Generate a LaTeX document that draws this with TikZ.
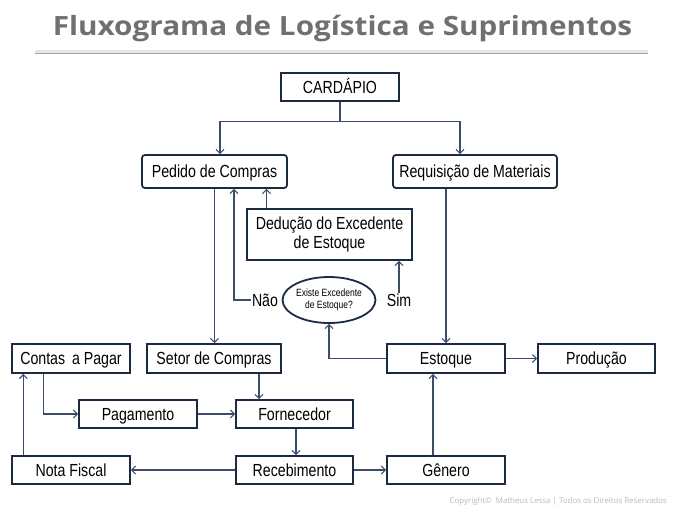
\documentclass[tikz,border=0pt]{standalone}
\usepackage{fontspec}
\setmainfont{Liberation Sans}[FakeStretch=0.81]
\newfontfamily\titlefont{Open Sans}[FakeStretch=1.12]
\newfontfamily\notefont{Open Sans}
\usepackage{tikz}
\usetikzlibrary{arrows.meta,positioning,shapes,calc}

\definecolor{boxline}{RGB}{28,42,66}
\definecolor{flowline}{RGB}{58,78,108}
\definecolor{titlegray}{RGB}{112,112,112}

\tikzset{
  etapa/.style={draw=boxline,line width=1.8pt,inner sep=0pt,
    font=\fontsize{17.5}{18.3}\selectfont,text height=12.5pt,text depth=0pt},
  etaparound/.style={etapa,rounded corners=3pt},
  rotulo/.style={font=\fontsize{17.5}{18.3}\selectfont,inner sep=1pt,text height=12.5pt,text depth=0pt},
  fluxo/.style={draw=flowline,line width=1.1pt,-{Straight Barb[length=4pt,width=8pt]}},
  liga/.style={draw=flowline,line width=1.1pt}
}

\begin{document}
\begin{tikzpicture}[x=1pt,y=-1pt]
  \useasboundingbox (0,0) rectangle (674,512);
  \node [anchor=base,inner sep=0pt] (titulo) at (342.5,35) {\titlefont\bfseries\fontsize{26.5}{28}\selectfont\color{titlegray}Fluxograma de Logística e Suprimentos};
  \coordinate (r0) at (35,53.3);
  \coordinate (r1) at (648,53.3);
  \draw [black!10,line width=2.5pt] ([yshift=2]r0) -- ([yshift=2]r1);
  \draw [black!35,line width=1pt] (r0) -- (r1);

  \node [etapa,minimum width=118,minimum height=28] (cardapio) at (340,87) {CARDÁPIO};
  \node [etaparound,minimum width=145,minimum height=33] (pedido) at (214.5,171.5) {Pedido de Compras};
  \node [etaparound,minimum width=164,minimum height=33] (requisicao) at (475,171.5) {Requisição de Materiais};
  \node [draw=boxline,line width=1.8pt,inner sep=0pt,align=center,font=\fontsize{17.5}{18.3}\selectfont,
    minimum width=165,minimum height=51] (deducao) at (329.5,234.5) {Dedução do Excedente\\de Estoque};
  \node [ellipse,draw=boxline,line width=1.8pt,minimum width=92,minimum height=46,inner sep=0pt,
    align=center,font=\fontsize{10.5}{11.5}\selectfont] (existe) at (329,300) {Existe Excedente\\de Estoque?};
  \node [rotulo] (nao) at (265,300) {Não};
  \node [rotulo] (sim) at (399,300) {Sim};

  \node [etapa,minimum width=118,minimum height=29] (contas) at (71,358.5) {Contas\, a Pagar};
  \node [etapa,minimum width=134,minimum height=29] (setor) at (214,358.5) {Setor de Compras};
  \node [etapa,minimum width=118,minimum height=29] (estoque) at (446,358.5) {Estoque};
  \node [etapa,minimum width=117,minimum height=29] (producao) at (596.5,358.5) {Produção};
  \node [etapa,minimum width=118,minimum height=28] (pagamento) at (138,414) {Pagamento};
  \node [etapa,minimum width=117,minimum height=28] (fornecedor) at (294.5,414) {Fornecedor};
  \node [etapa,minimum width=118,minimum height=28] (notafiscal) at (71,470) {Nota Fiscal};
  \node [etapa,minimum width=117,minimum height=28] (recebimento) at (294.5,470) {Recebimento};
  \node [etapa,minimum width=118,minimum height=28] (genero) at (446,470) {Gênero};

  \node [anchor=east,inner sep=0pt,text=black!28,font=\notefont\fontsize{7.9}{9}\selectfont] (copy) at (667,501.5)
    {Copyright©\ \ Matheus Lessa | Todos os Direitos Reservados};

  \draw [liga] (cardapio.south) -- ++(0,20) coordinate (split);
  \draw [fluxo] (split) -| ([xshift=5.5]pedido.north);
  \draw [fluxo] (split) -| ([xshift=-15]requisicao.north);
  \draw [fluxo] (pedido.south) -- (pedido.south |- setor.north);
  \draw [fluxo] ([xshift=-63]deducao.north) -- ([xshift=-63]deducao.north |- pedido.south);
  \draw [fluxo] (nao.west) -| ([xshift=19.5]pedido.south);
  \draw [fluxo] (sim.north) -- (sim.north |- deducao.south);
  \draw [fluxo] (estoque.west) -| (existe.south);
  \draw [fluxo] (estoque.north |- requisicao.south) -- (estoque.north);
  \draw [fluxo] (estoque.east) -- (producao.west);
  \draw [fluxo] ([xshift=-13]genero.north) -- ([xshift=-13]estoque.south);
  \draw [fluxo] (recebimento.east) -- (genero.west);
  \draw [fluxo] (recebimento.west) -- (notafiscal.east);
  \draw [fluxo] ([xshift=-47.7]notafiscal.north) -- ([xshift=-47.7]contas.south);
  \draw [fluxo] ([xshift=-27.7]contas.south) |- (pagamento.west);
  \draw [fluxo] (pagamento.east) -- (fornecedor.west);
  \draw [fluxo] ([xshift=45]setor.south) -- ([xshift=45]setor.south |- fornecedor.north);
  \draw [fluxo] ([xshift=1.5]fornecedor.south) -- ([xshift=1.5]recebimento.north);
\end{tikzpicture}
\end{document}
